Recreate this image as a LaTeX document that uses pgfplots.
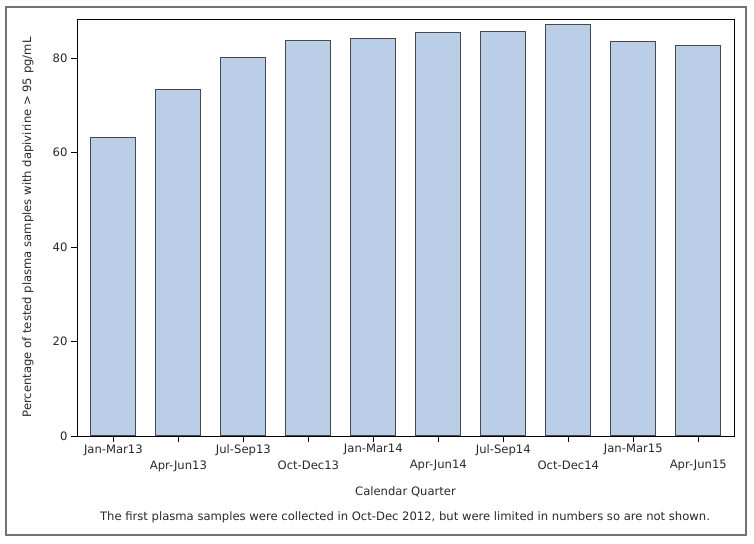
\documentclass[border=0pt]{standalone}
\usepackage{fontspec}
\setmainfont{DejaVu Sans}
\usepackage{pgfplots}
\pgfplotsset{compat=1.18}
\definecolor{barfill}{RGB}{187,206,231}
\definecolor{baredge}{RGB}{70,72,78}
\definecolor{txt}{RGB}{40,40,40}
\begin{document}
\begin{tikzpicture}
\path[use as bounding box] (0pt,0pt) rectangle (754pt,543pt);
\draw[black!55, line width=1.5pt] (6pt,8pt) rectangle (746pt,536pt);
\begin{axis}[
  at={(77pt,107pt)}, anchor=south west,
  width=657pt, height=417pt, scale only axis,
  xmin=-0.56, xmax=9.55, ymin=0, ymax=88.3,
  ybar, bar width=0.69,
  ytick={0,20,40,60,80},
  xtick={0,2,4,6,8},
  xticklabels={Jan-Mar13,Jul-Sep13,Jan-Mar14,Jul-Sep14,Jan-Mar15},
  extra x ticks={1,3,5,7,9},
  extra x tick labels={Apr-Jun13,Oct-Dec13,Apr-Jun14,Oct-Dec14,Apr-Jun15},
  extra x tick style={xticklabel style={yshift=-16pt}},
  xticklabel style={yshift=1pt},
  tick align=outside, tick pos=left,
  major tick length=6pt,
  tick style={black, line width=0.8pt},
  axis line style={black, line width=0.8pt},
  /pgf/number format/assume math mode=true,
  ticklabel style={font=\fontsize{11.6}{13}\selectfont, text=txt},
  label style={font=\fontsize{11.6}{13}\selectfont, text=txt},
  xlabel={Calendar Quarter},
  xlabel style={at={(axis description cs:0.5,-0.1343)}, anchor=center},
  ylabel={Percentage of tested plasma samples with dapivirine > 95 pg/mL},
  ylabel style={at={(axis description cs:-0.0746,0.5)}, anchor=center},
]
\addplot[fill=barfill, draw=baredge, line width=1pt] coordinates {
  (0,63.3) (1,73.3) (2,80.1) (3,83.7) (4,84.2)
  (5,85.4) (6,85.7) (7,87.1) (8,83.6) (9,82.7)
};
\end{axis}
\node[font=\fontsize{11.6}{13}\selectfont, text=txt] at (405pt,26pt)
  {The first plasma samples were collected in Oct-Dec 2012, but were limited in numbers so are not shown.};
\end{tikzpicture}
\end{document}
